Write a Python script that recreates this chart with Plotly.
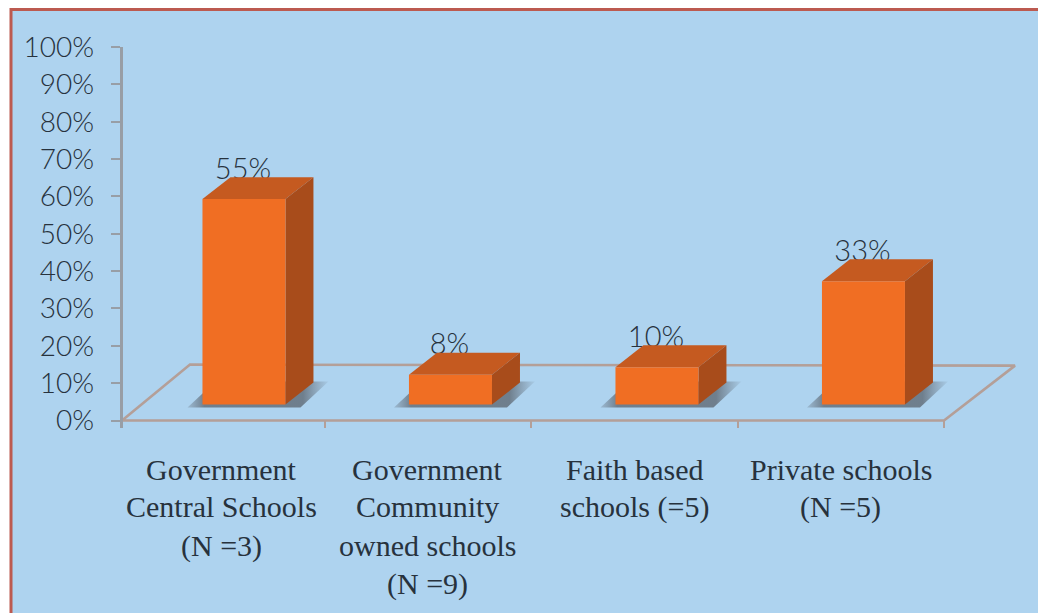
import plotly.graph_objects as go

# School groups and the share reported for each
category_lines = [
    ["Government", "Central Schools", "(N =3)"],
    ["Government", "Community", "owned schools", "(N =9)"],
    ["Faith based", "schools (=5)"],
    ["Private schools", "(N =5)"],
]
share_percent = [55, 8, 10, 33]
value_labels = ["55%", "8%", "10%", "33%"]
y_ticks = list(range(0, 101, 10))
y_tick_labels = [f"{v}%" for v in y_ticks]

W, H = 1038, 613
LEFT, RIGHT, TOP, BOTTOM = 118, 944, 47, 421
PX_X = (RIGHT - LEFT) / 4          # pixels per category
PX_Y = (BOTTOM - TOP) / 100        # pixels per percentage point

# The plot area runs past the last category to hold the receding floor,
# and below zero so the floor's front edge is not cut by the clip box
X_MAX = 4 + 86 / PX_X
Y_MIN = -2
PLOT_R = LEFT + X_MAX * PX_X
PLOT_B = BOTTOM - Y_MIN * PX_Y

# Oblique projection of the 3-D look, in axis units
DEPTH_X = 28 / PX_X
DEPTH_Y = 22 / PX_Y
BASE_Y = 16 / PX_Y
BAR_W = 83 / PX_X
BAR_CENTRE = 0.61

BG = "#AED3EF"
FLOOR = "#B49F98"
AXIS = "#989EA6"
TEXT = "#27323D"
SLAB = "Liberation Serif"
SANS = "Lato"

fig = go.Figure()


def poly(xs, ys, color):
    fig.add_trace(go.Scatter(
        x=xs + xs[:1], y=ys + ys[:1], mode="lines", fill="toself", fillcolor=color,
        line=dict(width=0), hoverinfo="skip", showlegend=False))


# Floor outline
fig.add_trace(go.Scatter(
    x=[4, 4 + 71 / PX_X, 72 / PX_X, 4 / PX_X, 4],
    y=[0, 55 / PX_Y, 56 / PX_Y, 0, 0],
    mode="lines", line=dict(color=FLOOR, width=2.6),
    hoverinfo="skip", showlegend=False))

# Value labels sit behind the bar tops, so they go in first
fig.add_trace(go.Scatter(
    x=[i + BAR_CENTRE - 1 / PX_X for i in range(4)],
    y=[v + BASE_Y + DEPTH_Y + 5.5 / PX_Y for v in share_percent],
    text=value_labels, mode="text", textposition="middle center",
    textfont=dict(family=SANS, size=29, color=TEXT, weight=300),
    hoverinfo="skip", showlegend=False))

for i, v in enumerate(share_percent):
    x0 = i + BAR_CENTRE - BAR_W / 2
    x1 = x0 + BAR_W
    y0 = BASE_Y
    y1 = BASE_Y + v

    # Cast shadow on the floor
    sx = 15 / PX_X
    sy = 3 / PX_Y
    top = y0 - sy + DEPTH_Y + 4 / PX_Y
    fig.add_trace(go.Scatter(
        x=[x0 - sx, x0 - sx + DEPTH_X, x1 + sx + DEPTH_X, x1 + sx, x0 - sx],
        y=[y0 - sy, top, top, y0 - sy, y0 - sy],
        mode="lines", line=dict(width=0), fill="toself",
        fillgradient=dict(
            type="horizontal", start=x0 - sx, stop=x1 + sx + DEPTH_X,
            colorscale=[[0, "rgba(110,125,140,0.3)"], [0.12, "rgba(100,112,124,0.85)"],
                        [0.82, "rgba(100,112,124,0.85)"], [1, "rgba(110,125,140,0.1)"]]),
        hoverinfo="skip", showlegend=False))

    poly([x0, x1, x1 + DEPTH_X, x0 + DEPTH_X], [y1, y1, y1 + DEPTH_Y, y1 + DEPTH_Y], "#C55A20")
    poly([x1, x1 + DEPTH_X, x1 + DEPTH_X, x1], [y0, y0 + DEPTH_Y, y1 + DEPTH_Y, y1], "#A84C1B")
    poly([x0, x1, x1, x0], [y0, y0, y1, y1], "#F06E23")

# Category captions, one annotation per line for the wide leading
LINE_Y = [470, 507, 546, 584]
annotations = []
for i, lines in enumerate(category_lines):
    for j, text in enumerate(lines):
        annotations.append(dict(
            x=i + 0.5, y=0, xref="x", yref="y", text=text, showarrow=False,
            xanchor="center", yanchor="middle", yshift=BOTTOM - LINE_Y[j],
            font=dict(family=SLAB, size=30, color=TEXT)))


# Page frame, expressed in plot-area fractions so it reaches past the axes
def fx(px):
    return (px - LEFT) / (PLOT_R - LEFT)


def fy(px):
    return (PLOT_B - px) / (PLOT_B - TOP)


frame = dict(type="rect", xref="paper", yref="paper",
             x0=fx(11), x1=fx(W + 6), y0=fy(H + 6), y1=fy(9.5),
             fillcolor=BG, line=dict(color="#BC5A50", width=3), layer="below")

fig.update_layout(
    width=W, height=H, autosize=False,
    margin=dict(l=LEFT, r=W - PLOT_R, t=TOP, b=H - PLOT_B, pad=0),
    paper_bgcolor="white", plot_bgcolor="rgba(0,0,0,0)",
    showlegend=False, shapes=[frame], annotations=annotations,
    xaxis=dict(range=[0, X_MAX], tickmode="array", tickvals=[0, 1, 2, 3, 4],
               ticktext=[""] * 5, ticks="inside", ticklen=8, tickwidth=2,
               tickcolor=FLOOR, showgrid=False, zeroline=False, showline=False),
    yaxis=dict(range=[Y_MIN, 100], tickmode="array", tickvals=y_ticks, ticktext=y_tick_labels,
               anchor="free", position=fx(120.5),
               ticks="outside", ticklen=9, tickwidth=2, tickcolor=AXIS,
               showline=True, linecolor=AXIS, linewidth=2.6, showgrid=False,
               zeroline=False, ticklabelstandoff=11,
               tickfont=dict(family=SANS, size=28, color=TEXT, weight=300)),
)

fig.write_html("out.html")
